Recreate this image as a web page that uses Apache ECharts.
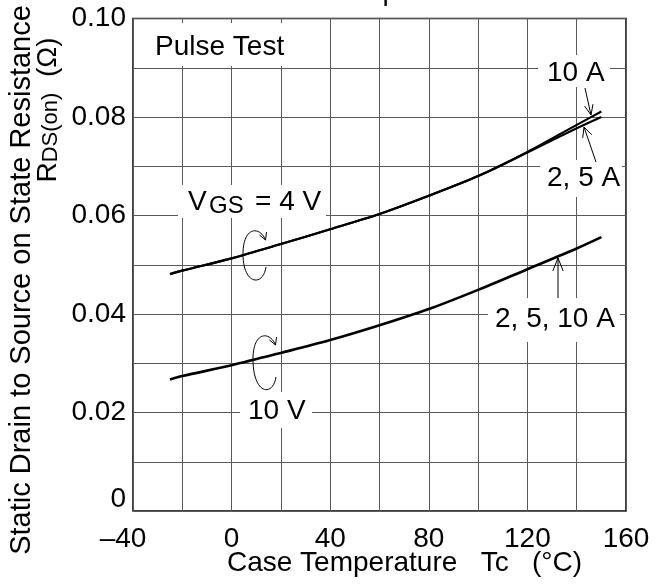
<!DOCTYPE html>
<html>
<head>
<meta charset="utf-8">
<script src="https://cdn.jsdelivr.net/npm/echarts@6/dist/echarts.min.js"></script>
<style>
html, body { margin: 0; padding: 0; background: #fff; }
#chart { width: 656px; height: 584px; }
</style>
</head>
<body>
<div id="chart"></div>
<script>
// Case temperature (°C) where the curves were read
var temps = [-25, -20, 0, 20, 40, 60, 80, 100, 120, 140, 150];
// RDS(on) (Ω)
var rds4V_10A = [0.0481, 0.0488, 0.0513, 0.0542, 0.0572, 0.0603, 0.0640, 0.0680, 0.0729, 0.0784, 0.0811];
var rds4V_2A5A = [0.0481, 0.0488, 0.0513, 0.0542, 0.0572, 0.0603, 0.0640, 0.0680, 0.0728, 0.0777, 0.0800];
var rds10V = [0.0267, 0.0274, 0.0296, 0.0321, 0.0347, 0.0377, 0.0410, 0.0449, 0.0491, 0.0533, 0.0556];
// tick labels (one for every other grid line)
var xTickLabels = ['–40', '0', '40', '80', '120', '160'];
var yTickLabels = ['0', '0.02', '0.04', '0.06', '0.08', '0.10'];

var FONT = '"Liberation Sans", Arial, sans-serif';

function pairs(xs, ys) {
	return xs.map(function(x, i) {
		return [x, ys[i]];
	});
}

function arrow(x1, y1, x2, y2, len, ang) {
	var a = Math.atan2(y2 - y1, x2 - x1);
	return [{
		type: 'line', z: 20,
		shape: { x1: x1, y1: y1, x2: x2, y2: y2 },
		style: { stroke: '#000', lineWidth: 1 }
	}, {
		type: 'polyline', z: 20,
		shape: {
			points: [
				[x2 - len * Math.cos(a - ang), y2 - len * Math.sin(a - ang)],
				[x2, y2],
				[x2 - len * Math.cos(a + ang), y2 - len * Math.sin(a + ang)]
			]
		},
		style: { stroke: '#000', lineWidth: 1, fill: null }
	}];
}

// C shaped turning arrow, dx/dy = offset
function turnArrow(dx, dy, stretch) {
	var s = stretch || 0;
	var bz = { stroke: '#000', lineWidth: 1, fill: null };
	var out = [{
		type: 'bezierCurve', z: 20,
		shape: { x1: 266 + dx, y1: 267 + dy + s, cpx1: 263 + dx, cpy1: 287 + dy + s, cpx2: 243 + dx, cpy2: 285 + dy + s, x2: 243 + dx, y2: 254 + dy },
		style: bz
	}, {
		type: 'bezierCurve', z: 20,
		shape: { x1: 243 + dx, y1: 254 + dy, cpx1: 243 + dx, cpy1: 226 + dy, cpx2: 260 + dx, cpy2: 226 + dy, x2: 265.5 + dx, y2: 240 + dy },
		style: bz
	}];
	var head = arrow(260 + dx, 226 + dy, 265.5 + dx, 240 + dy, 8, 0.5);
	return out.concat([head[1]]);
}

function box(x, y, w, h) {
	return { type: 'rect', z: 10, shape: { x: x, y: y, width: w, height: h }, style: { fill: '#fff' } };
}

function label(text, x, y, size) {
	return {
		type: 'text', z: 15, x: x, y: y,
		style: { text: text, font: (size || 28) + 'px ' + FONT, fill: '#000', textAlign: 'left', textVerticalAlign: 'middle' }
	};
}

var chart = echarts.init(document.getElementById('chart'));

var graphics = [
	box(136, 23, 164, 43), label('Pulse Test', 155, 47),
	box(538, 55, 72, 32), label('10 A', 547, 73),
	box(540, 160, 82, 37), label('2, 5 A', 547, 178),
	box(178, 185, 148, 33), label('V', 188, 202), label('GS', 209, 206, 24), label('= 4 V', 255, 202),
	box(240, 392, 72, 36), label('10 V', 248, 411),
	box(488, 298, 132, 44), label('2, 5, 10 A', 495, 319),
	// title (cut off at the top)
	{
		type: 'text', x: 286, y: 6.5,
		style: { text: 'vs. Temperature', font: '28px ' + FONT, fill: '#000', textAlign: 'left', textVerticalAlign: 'bottom' }
	},
	// y axis title, two lines
	{
		type: 'text', x: 22, y: 280, rotation: Math.PI / 2,
		style: { text: 'Static Drain to Source on State Resistance', font: '29px ' + FONT, fill: '#000', textAlign: 'center', textVerticalAlign: 'middle' }
	},
	{
		type: 'text', x: 48, y: 110, rotation: Math.PI / 2,
		style: {
			text: 'R{s|DS(on)}  (Ω)', font: '28px ' + FONT, fill: '#000', textAlign: 'center', textVerticalAlign: 'middle',
			rich: { s: { fontSize: 22, fontFamily: 'Liberation Sans', padding: [6, 0, 0, 0] } }
		}
	}
];
graphics = graphics
	.concat(arrow(585, 88, 591, 115, 11, 0.4))
	.concat(arrow(596, 162, 584, 127, 11, 0.45))
	.concat(arrow(558, 298, 558, 258, 14, 0.38))
	.concat(turnArrow(0, 0))
	.concat(turnArrow(10, 105, 5));

chart.setOption({
	backgroundColor: '#fff',
	animation: false,
	grid: {
		left: 133,
		right: 30,
		top: 18.5,
		bottom: 73,
		outerBoundsMode: 'none',
		containLabel: false,
		show: true,
		borderColor: '#000',
		borderWidth: 1.5
	},
	xAxis: {
		type: 'value',
		min: -40,
		max: 160,
		interval: 20,
		axisLine: { show: false },
		axisTick: { show: false },
		splitLine: { show: true, lineStyle: { color: '#5a5a5a', width: 1 } },
		axisLabel: {
			margin: 14,
			color: '#000',
			fontSize: 28,
			fontFamily: 'Liberation Sans',
			formatter: function(v, i) {
				if (i % 2 !== 0) return '';
				return i === 0 ? '{n|' + xTickLabels[0] + '}' : xTickLabels[i / 2];
			},
			rich: { n: { fontSize: 28, fontFamily: 'Liberation Sans', color: '#000', padding: [0, 20, 0, 0] } }
		},
		name: 'Case Temperature   Tc   (°C)',
		nameLocation: 'middle',
		nameGap: 38,
		nameMoveOverlap: false,
		nameTextStyle: { color: '#000', fontSize: 28, fontFamily: 'Liberation Sans', padding: [0, 0, 0, 50] }
	},
	yAxis: {
		type: 'value',
		min: 0,
		max: 0.1,
		interval: 0.01,
		axisLine: { show: false },
		axisTick: { show: false },
		splitLine: { show: true, lineStyle: { color: '#5a5a5a', width: 1 } },
		axisLabel: {
			margin: 7,
			color: '#000',
			fontSize: 28,
			fontFamily: 'Liberation Sans',
			formatter: function(v, i) {
				if (i % 2 !== 0) return '';
				return i === 0 ? '{z|' + yTickLabels[0] + '}' : yTickLabels[i / 2];
			},
			rich: { z: { fontSize: 28, fontFamily: 'Liberation Sans', color: '#000', padding: [0, 0, 24, 0] } }
		}
	},
	graphic: graphics,
	series: [{
		name: 'VGS = 4 V, 10 A',
		type: 'line',
		z: 30,
		smooth: 0.3,
		showSymbol: false,
		lineStyle: { color: '#000', width: 2.2 },
		data: pairs(temps, rds4V_10A)
	}, {
		name: 'VGS = 4 V, 2, 5 A',
		type: 'line',
		z: 30,
		smooth: 0.3,
		showSymbol: false,
		lineStyle: { color: '#000', width: 2.2 },
		data: pairs(temps, rds4V_2A5A)
	}, {
		name: 'VGS = 10 V, 2, 5, 10 A',
		type: 'line',
		z: 30,
		smooth: 0.3,
		showSymbol: false,
		lineStyle: { color: '#000', width: 2.6 },
		data: pairs(temps, rds10V)
	}]
});
</script>
</body>
</html>
